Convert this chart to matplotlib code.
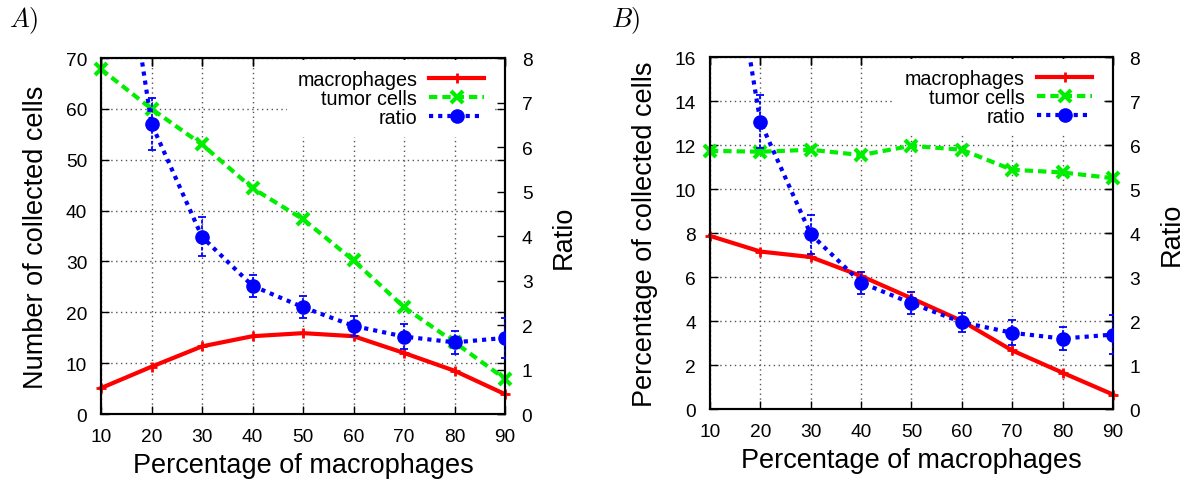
import matplotlib
matplotlib.use('Agg')
import matplotlib.pyplot as plt
import numpy as np

plt.rcParams['font.family'] = ['Liberation Sans', 'DejaVu Sans']
plt.rcParams['mathtext.fontset'] = 'cm'

# data
pct = [10, 20, 30, 40, 50, 60, 70, 80, 90]

# panel A: number of collected cells
macro_a = [5.1, 9.3, 13.3, 15.3, 15.9, 15.3, 12.0, 8.5, 3.9]
tumor_a = [67.8, 60.0, 53.0, 44.4, 38.3, 30.2, 21.0, 14.1, 6.9]
ratio_a = [14.0, 6.52, 3.98, 2.88, 2.40, 1.98, 1.74, 1.61, 1.71]
ratio_err_a = [1.2, 0.58, 0.44, 0.25, 0.25, 0.22, 0.28, 0.26, 0.45]

# panel B: percentage of collected cells
macro_b = [7.88, 7.17, 6.92, 6.06, 5.05, 4.02, 2.68, 1.67, 0.68]
tumor_b = [11.74, 11.7, 11.79, 11.55, 11.97, 11.79, 10.88, 10.76, 10.5]
ratio_b = [13.5, 6.53, 3.98, 2.88, 2.41, 1.98, 1.74, 1.61, 1.70]
ratio_err_b = [1.2, 0.6, 0.44, 0.25, 0.25, 0.22, 0.28, 0.26, 0.45]

red = '#ff0000'
green = '#00ee00'
blue = '#0000ff'

fig = plt.figure(figsize=(11.87, 4.81), dpi=100)


def panel(rect, macro, tumor, ratio, err, ymax, ystep, ylabel, tag, tagx):
    ax = fig.add_axes(rect)
    ax2 = ax.twinx()

    l1, = ax.plot(pct, macro, color=red, lw=3, marker='+', ms=7, mew=2,
                  label='macrophages', clip_on=False, zorder=3)
    l2, = ax.plot(pct, tumor, color=green, lw=3, ls=(0, (2, 1.2)), marker='x',
                  ms=8, mew=3, label='tumor cells', clip_on=False, zorder=3)
    l3, = ax2.plot(pct, ratio, color=blue, lw=3, ls=(0, (1, 1.2)), marker='o',
                   ms=9.5, label='ratio', zorder=3)
    eb = ax2.errorbar(pct, ratio, yerr=err, fmt='none', ecolor=blue,
                      elinewidth=1.3, capsize=3, capthick=1.3, zorder=3)
    eb[2][0].set_linestyle((0, (2, 1)))

    ax.set_xlim(10, 90)
    ax.set_ylim(0, ymax)
    ax2.set_ylim(0, 8)
    ax.set_xticks(pct)
    ax.set_yticks(np.arange(0, ymax + 0.1, ystep))
    ax2.set_yticks(range(0, 9))

    ax.grid(True, color='#555555', ls=(0, (1, 2.5)), lw=1)
    ax.tick_params(direction='in', length=6, width=1, labelsize=13.8,
                   top=True, right=True, pad=10)
    ax2.tick_params(direction='in', length=6, width=1, labelsize=13.8, pad=12)
    # top ticks again on the twin so the legend box does not hide them
    ax2.xaxis.set_visible(True)
    ax2.tick_params(axis='x', direction='in', length=6, width=1, top=True,
                    bottom=False, labeltop=False, labelbottom=False)
    for a in (ax, ax2):
        for s in a.spines.values():
            s.set_linewidth(1.5)

    ax.set_xlabel('Percentage of macrophages', fontsize=19.5, labelpad=5)
    ax.set_ylabel(ylabel, fontsize=19.5, labelpad=12)
    ax2.set_ylabel('Ratio', fontsize=19.5, labelpad=13)

    leg = ax2.legend(handles=[l1, l2, l3], loc='upper right',
                     bbox_to_anchor=(0.973, 0.995), markerfirst=False,
                     frameon=True, fancybox=False, edgecolor='white',
                     framealpha=1, fontsize=14.2, handlelength=2.8,
                     labelspacing=0.0, borderpad=0.5, borderaxespad=0,
                     handletextpad=0.6)
    leg.get_frame().set_linewidth(0)
    leg.set_zorder(2.4)

    fig.text(tagx, 0.956, tag, fontsize=19, ha='left', va='center')
    return ax


panel([0.0851, 0.1372, 0.3404, 0.7401], macro_a, tumor_a, ratio_a, ratio_err_a,
      70, 10, 'Number of collected cells', r'$A)$', 0.008)
panel([0.5981, 0.1466, 0.3395, 0.7328], macro_b, tumor_b, ratio_b, ratio_err_b,
      16, 2, 'Percentage of collected cells', r'$B)$', 0.515)

plt.savefig('out.png', dpi=100)
